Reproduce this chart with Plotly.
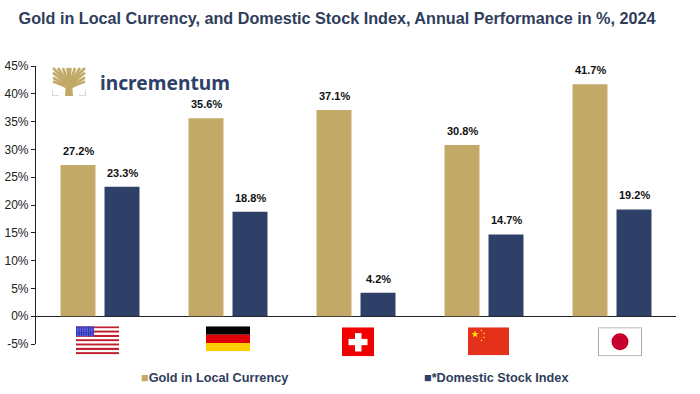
import base64
import plotly.graph_objects as go

countries = ["United States", "Germany", "Switzerland", "China", "Japan"]
gold = [27.2, 35.6, 37.1, 30.8, 41.7]
stocks = [23.3, 18.8, 4.2, 14.7, 19.2]
gold_name = "Gold in Local Currency"
stock_name = "*Domestic Stock Index"
tick_vals = [-5, 0, 5, 10, 15, 20, 25, 30, 35, 40, 45]
tick_text = ["-5%", "0%", "5%", "10%", "15%", "20%", "25%", "30%", "35%", "40%", "45%"]
title = "Gold in Local Currency, and Domestic Stock Index, Annual Performance in %, 2024"

W, H = 700, 394
GOLD, NAVY, INK = "#C2A968", "#2E4068", "#2F3D5B"
L, R, T, B = 36, 676, 66, 343.7


def uri(svg):
    return "data:image/svg+xml;base64," + base64.b64encode(svg.encode()).decode()


def svg(w, h, body):
    return f'<svg xmlns="http://www.w3.org/2000/svg" width="{w}" height="{h}" viewBox="0 0 {w} {h}" preserveAspectRatio="none">{body}</svg>'


us_stripes = "".join(
    f'<rect y="{i*3.23:.2f}" width="43" height="3.23" fill="{"#C01F2E" if i%2==0 else "#fff"}"/>' for i in range(13)
)
us_stars = "".join(
    f'<circle cx="{1.2+c*1.75:.2f}" cy="{1.2+r*1.75:.2f}" r=".4" fill="#fff"/>' for r in range(9) for c in range(10)
)
us = svg(43, 42, us_stripes + '<rect width="18" height="15" fill="#2A2FC0"/>' + us_stars)
de = svg(44, 25, '<rect width="44" height="8.4" fill="#000"/><rect y="8.4" width="44" height="8.3" fill="#DD0000"/><rect y="16.7" width="44" height="8.3" fill="#FFCE00"/>')
ch = svg(32, 30, '<rect width="32" height="30" fill="#F00000"/><rect x="13" y="6" width="6.5" height="19" fill="#fff"/><rect x="6.5" y="12" width="19" height="6.5" fill="#fff"/>')
star = '<polygon points="0,-1 .59,.81 -.95,-.31 .95,-.31 -.59,.81" fill="#FFDE00" transform="translate({} {}) scale({})"/>'
cn = svg(41, 28, '<rect width="41" height="28" fill="#E4311B"/>' + star.format(7, 7, 4) + star.format(13.5, 3, 1.3) + star.format(16, 6, 1.3) + star.format(16, 10, 1.3) + star.format(13.5, 13, 1.3))
jp = svg(44, 29, '<rect x=".5" y=".5" width="43" height="28" fill="#fff" stroke="#AAAAAA"/><circle cx="22" cy="14.5" r="8.5" fill="#C8002E"/>')

branches = "".join(
    f'<path d="M17 22 Q{17+dx*.35} {sy} {17+dx} {ey}" stroke="{GOLD}" stroke-width="2.6" fill="none"/>'
    for dx, ey, sy in [(-16, 1, 11), (-16, 6, 14), (-16, 11, 17), (-16, 15, 19), (-11, 1, 12), (-6, 1, 12), (-1.5, 1, 12),
                       (1.5, 1, 12), (6, 1, 12), (11, 1, 12), (16, 1, 11), (16, 6, 14), (16, 11, 17), (16, 15, 19)]
)
tree = svg(34, 30, branches + f'<path d="M13 30 L14 16 H20 L21 30Z" fill="{GOLD}"/>'
           '<path d="M.5 24 V29.5 H7 M33.5 24 V29.5 H27" stroke="#D5D8E2" stroke-width="1.2" fill="none"/>')


def px_image(source, x, y, w, h):
    return dict(source=uri(source), xref="paper", yref="paper", x=(x - L) / (R - L), y=1 - (y - T) / (B - T),
                sizex=w / (R - L), sizey=h / (B - T), xanchor="left", yanchor="top", sizing="stretch", layer="above")


fig = go.Figure()
fig.add_bar(name=gold_name, x=countries, y=gold, marker_color=GOLD, showlegend=False)
fig.add_bar(name=stock_name, x=countries, y=stocks, marker_color=NAVY, showlegend=False)

annotations = []
for values, shift in ((gold, -22), (stocks, 22)):
    for c, v in zip(countries, values):
        annotations.append(dict(x=c, y=v, text=f"<b>{v:.1f}%</b>", showarrow=False, xshift=shift, yshift=6,
                                yanchor="bottom", font=dict(family="Liberation Sans", size=11, color="#111111")))
for name, color, xpos in ((gold_name, GOLD, 139), (stock_name, NAVY, 422)):
    annotations.append(dict(xref="paper", yref="paper", x=(xpos - L) / (R - L), y=1 - (378 - T) / (B - T),
                            xanchor="left", yanchor="middle", showarrow=False,
                            text=f'<span style="color:{color}">■</span><b>{name}</b>',
                            font=dict(family="Liberation Sans", size=12.7, color=INK)))
annotations.append(dict(xref="paper", yref="paper", x=(98 - L) / (R - L), y=1 - (82 - T) / (B - T),
                        xanchor="left", yanchor="middle", showarrow=False, text="incrementum",
                        font=dict(family="Noto Sans", size=19.2, color=NAVY, weight=700)))

fig.update_layout(
    width=W, height=H, autosize=False, template=None,
    paper_bgcolor="white", plot_bgcolor="white",
    margin=dict(l=L, r=W - R, t=T, b=H - B),
    barmode="group", bargap=0.3125, bargroupgap=0.205,
    title=dict(text=f"<b>{title}</b>", x=337 / W, xanchor="center", y=1 - 18 / H, yanchor="middle",
               font=dict(family="Liberation Sans", size=16.2, color=INK)),
    xaxis=dict(showticklabels=False, ticks="", showgrid=False, zeroline=False, showline=False),
    yaxis=dict(range=[-5, 45], tickvals=tick_vals, ticktext=tick_text, ticks="outside", ticklen=4, tickcolor="#222222",
               showgrid=False, showline=True, linecolor="#222222", linewidth=1.2,
               zeroline=True, zerolinecolor="#222222", zerolinewidth=1.2,
               tickfont=dict(family="Liberation Sans", size=12, color="#222222")),
    annotations=annotations,
    images=[px_image(us, 76, 326, 43, 28), px_image(de, 206, 326, 44, 25), px_image(ch, 342, 327, 32, 29),
            px_image(cn, 468, 327, 41, 28), px_image(jp, 598, 327, 44, 29), px_image(tree, 52, 67, 34, 29)],
)
fig.write_html("out.html", config={"displayModeBar": False},
               post_script="document.body.style.margin='0';document.body.style.overflow='hidden';")
